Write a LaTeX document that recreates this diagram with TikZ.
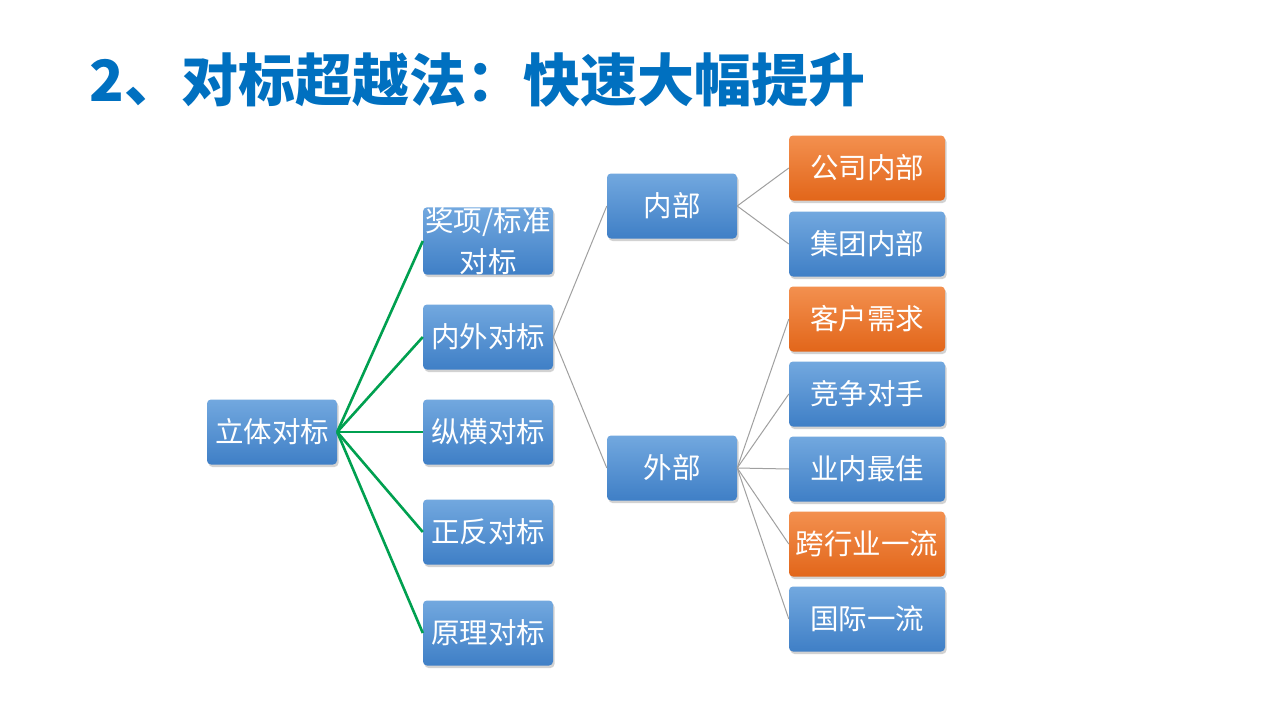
\documentclass[tikz,border=0pt]{standalone}
\usepackage{fontspec}
\setmainfont{Noto Sans CJK SC}
\newfontfamily\cjk{Noto Sans CJK SC}
\usetikzlibrary{shadows}
\definecolor{titleblue}{HTML}{0070C0}
\definecolor{btop}{HTML}{72A8DF}
\definecolor{bbot}{HTML}{3F7FC6}
\definecolor{otop}{HTML}{F3904F}
\definecolor{obot}{HTML}{E2661A}
\definecolor{greenline}{HTML}{00A050}
\definecolor{grayline}{HTML}{A0A0A0}
\tikzset{
  box/.style={rectangle, rounded corners=4pt, minimum height=65pt, inner sep=0pt,
    top color=btop, bottom color=bbot, draw=none, text=white,
    font=\cjk\fontsize{28.5}{41}\selectfont, align=center,
    drop shadow={shadow xshift=1.5pt, shadow yshift=-2.5pt, opacity=0.35}},
  bluebox/.style={box, minimum width=130pt},
  rbox/.style={box, minimum width=156pt},
  orangebox/.style={rbox, top color=otop, bottom color=obot},
  gline/.style={draw=greenline, line width=2.6pt},
  tline/.style={draw=grayline, line width=1pt},
}
\begin{document}
\begin{tikzpicture}[x=1pt,y=-1pt]
\useasboundingbox (0,0) rectangle (1280,720);
\fill[white] (0,0) rectangle (1280,720);
\node[anchor=west, text=titleblue, font=\cjk\bfseries\fontsize{57}{62}\selectfont] (title) at (86,80) {2、对标超越法：快速大幅提升};

\node[bluebox] (root) at (272,432) {立体对标};
\node[bluebox] (c1) at (488,241) {奖项/标准\\对标};
\node[bluebox] (c2) at (488,337) {内外对标};
\node[bluebox] (c3) at (488,432) {纵横对标};
\node[bluebox] (c4) at (488,532) {正反对标};
\node[bluebox] (c5) at (488,633) {原理对标};

\node[bluebox] (nb) at (672,206) {内部};
\node[bluebox] (wb) at (672,468) {外部};

\node[orangebox] (r1) at (867,168) {公司内部};
\node[rbox] (r2) at (867,244) {集团内部};
\node[orangebox] (r3) at (867,319) {客户需求};
\node[rbox] (r4) at (867,394) {竞争对手};
\node[rbox] (r5) at (867,469) {业内最佳};
\node[orangebox] (r6) at (867,544) {跨行业一流};
\node[rbox] (r7) at (867,619) {国际一流};

\foreach \c in {c1,c2,c3,c4,c5} \draw[gline] (root.east) -- (\c.west);
\draw[tline] (c2.east) -- (nb.west);
\draw[tline] (c2.east) -- (wb.west);
\draw[tline] (nb.east) -- (r1.west);
\draw[tline] (nb.east) -- (r2.west);
\foreach \r in {r3,r4,r5,r6,r7} \draw[tline] (wb.east) -- (\r.west);
\end{tikzpicture}
\end{document}
